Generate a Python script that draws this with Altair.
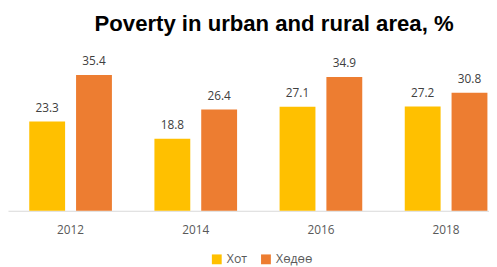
import altair as alt
import pandas as pd

years = ["2012", "2014", "2016", "2018"]
series = ["Хот", "Хөдөө"]
hot = [23.3, 18.8, 27.1, 27.2]
hodoo = [35.4, 26.4, 34.9, 30.8]
colors = ["#FFC000", "#ED7D31"]

rows = []
for i, y in enumerate(years):
    rows.append({"year": y, "series": series[0], "value": hot[i]})
    rows.append({"year": y, "series": series[1], "value": hodoo[i]})
df = pd.DataFrame(rows)

x = alt.X("year:N", sort=years,
          scale=alt.Scale(range=[0, 509], paddingInner=0, paddingOuter=0),
          axis=alt.Axis(title=None, labelAngle=0, ticks=False, domainColor="#D9D9D9",
                        domainWidth=1, labelFont="Open Sans", labelFontSize=12,
                        labelColor="#595959", labelPadding=14))
xo = alt.XOffset("series:N", sort=series,
                 scale=alt.Scale(paddingInner=0.234, paddingOuter=0.454))
y = alt.Y("value:Q", scale=alt.Scale(domain=[0, 40], nice=False), axis=None)

base = alt.Chart(df).encode(x=x, xOffset=xo, y=y)

bars = base.mark_bar().encode(
    color=alt.Color("series:N", sort=series,
                    scale=alt.Scale(domain=series, range=colors),
                    legend=alt.Legend(title=None, orient="none", legendX=206, legendY=199,
                                      direction="horizontal", symbolType="square",
                                      symbolSize=100, symbolStrokeWidth=0,
                                      labelFont="Open Sans", labelFontSize=12.5,
                                      labelColor="#595959", labelOffset=4,
                                      columnPadding=12))
)

labels = base.mark_text(baseline="bottom", dy=-7, font="Open Sans", fontSize=12,
                        color="#404040").encode(text=alt.Text("value:Q", format=".1f"))

chart = (bars + labels).properties(
    width=489, height=156,
    autosize=alt.AutoSizeParams(type="none"),
    padding={"left": 0, "top": 48, "right": 0, "bottom": 55},
    title=alt.TitleParams("Poverty in urban and rural area, %", font="Liberation Sans",
                          fontSize=22.5, fontWeight="bold", color="black",
                          anchor="middle", dx=26, offset=20),
).configure_view(stroke=None)

chart.save("out.html", embed_options={"renderer": "svg", "actions": False})
